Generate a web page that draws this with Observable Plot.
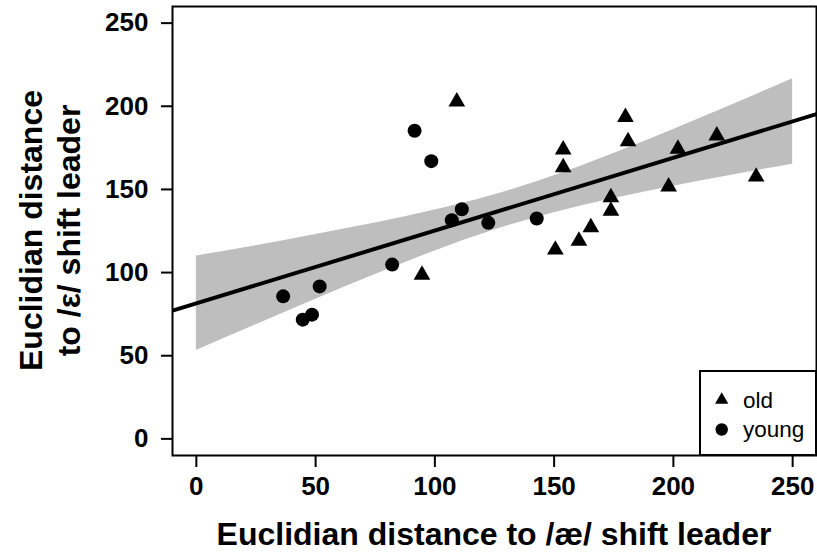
<!DOCTYPE html>
<html><head><meta charset="utf-8">
<script src="https://cdn.jsdelivr.net/npm/d3@7"></script>
<script src="https://cdn.jsdelivr.net/npm/@observablehq/plot@0.6"></script>
<style>html,body{margin:0;padding:0;background:#fff}</style>
</head><body><div id="chart"></div>
<script>
// ---- data ----
const groups = ["old", "young"];
const youngX = [36.4, 44.6, 48.5, 51.7, 82.1, 91.5, 98.5, 107.1, 111.3, 122.4, 142.7];
const youngY = [85.7, 71.7, 74.7, 91.7, 104.8, 185.3, 167.0, 131.5, 138.1, 129.9, 132.5];
const oldX = [94.6, 109.2, 150.5, 153.8, 153.8, 160.4, 165.4, 173.8, 173.8, 179.9, 181.0, 198.0, 201.9, 218.2, 234.7];
const oldY = [98.6, 202.8, 113.7, 163.2, 173.9, 119.1, 127.1, 137.1, 145.2, 193.4, 178.9, 151.6, 174.3, 182.3, 157.6];
const fitX = [-10, 260];
const fitY = [77.1, 195.3];
const bandX  = [0, 25, 50, 75, 100, 125, 150, 175, 200, 225, 250];
const bandLo = [53.1, 68.6, 83.9, 98.8, 113.0, 125.6, 136.0, 144.6, 151.9, 158.7, 165.2];
const bandHi = [109.9, 116.2, 122.9, 129.8, 137.6, 146.8, 158.2, 171.6, 186.1, 201.1, 216.6];
const xTicks = [0, 50, 100, 150, 200, 250];
const yTicks = [0, 50, 100, 150, 200, 250];
const xTitle = "Euclidian distance to /æ/ shift leader";
const yTitle = ["Euclidian distance", "to /ε/ shift leader"];

const young = youngX.map((x, i) => ({x, y: youngY[i]}));
const old = oldX.map((x, i) => ({x, y: oldY[i]}));
const fit = fitX.map((x, i) => ({x, y: fitY[i]}));
const band = bandX.map((x, i) => ({x, lo: bandLo[i], hi: bandHi[i]}));

const FONT = "'Liberation Sans', Arial, Helvetica, sans-serif";
const W = 817, H = 552;
const M = {left: 172, right: 1, top: 6, bottom: 97};

const chart = Plot.plot({
  width: W, height: H,
  marginLeft: M.left, marginRight: M.right, marginTop: M.top, marginBottom: M.bottom,
  x: {domain: [-10, 260]},
  y: {domain: [-10, 260]},
  style: {fontFamily: FONT, color: "black", background: "white", overflow: "visible"},
  marks: [
    Plot.areaY(band, {x: "x", y1: "lo", y2: "hi", fill: "#bebebe", curve: "natural"}),
    Plot.dot(old, {x: "x", y: "y", symbol: "triangle", r: 6.2, fill: "black", stroke: "none"}),
    Plot.dot(young, {x: "x", y: "y", symbol: "circle", r: 7, fill: "black", stroke: "none"}),
    Plot.line(fit, {x: "x", y: "y", stroke: "black", strokeWidth: 4, clip: true}),
    Plot.frame({stroke: "black", strokeWidth: 2}),
    Plot.axisX({ticks: xTicks, tickSize: 12, tickPadding: 9, fontSize: 26, fontWeight: "bold", label: null, strokeWidth: 2, tickFormat: d => String(d)}),
    Plot.axisY({ticks: yTicks, tickSize: 11, tickPadding: 13, fontSize: 26, fontWeight: "bold", label: null, strokeWidth: 2, tickFormat: d => String(d)})
  ]
});
document.getElementById("chart").appendChild(chart);

const svg = d3.select(chart);
// axis titles
svg.append("text")
  .attr("x", (M.left + W - M.right) / 2).attr("y", 545)
  .attr("text-anchor", "middle").attr("font-family", FONT)
  .attr("font-size", 32).attr("font-weight", "bold").attr("fill", "black")
  .text(xTitle);
const yc = (M.top + H - M.bottom) / 2;
yTitle.forEach((t, i) => {
  svg.append("text")
    .attr("transform", `translate(${42 + i * 38},${yc}) rotate(-90)`)
    .attr("text-anchor", "middle").attr("font-family", FONT)
    .attr("font-size", 32).attr("font-weight", "bold").attr("fill", "black")
    .text(t);
});
// legend
const lg = svg.append("g");
lg.append("rect").attr("x", 700).attr("y", 371).attr("width", 116).attr("height", 84)
  .attr("fill", "white").attr("stroke", "black").attr("stroke-width", 2);
const syms = [d3.symbolTriangle, d3.symbolCircle];
const areas = [0.433 * 13.3 * 13.3, Math.PI * 6.2 * 6.2];
groups.forEach((g, i) => {
  const cy = 400 + i * 29.5;
  lg.append("path").attr("d", d3.symbol(syms[i], areas[i])())
    .attr("transform", `translate(721.7,${cy})`).attr("fill", "black");
  lg.append("text").attr("x", 743).attr("y", cy + 7.5)
    .attr("text-anchor", "start")
    .attr("font-family", FONT).attr("font-size", 22.5).attr("fill", "black")
    .text(g);
});
</script>
</body></html>
